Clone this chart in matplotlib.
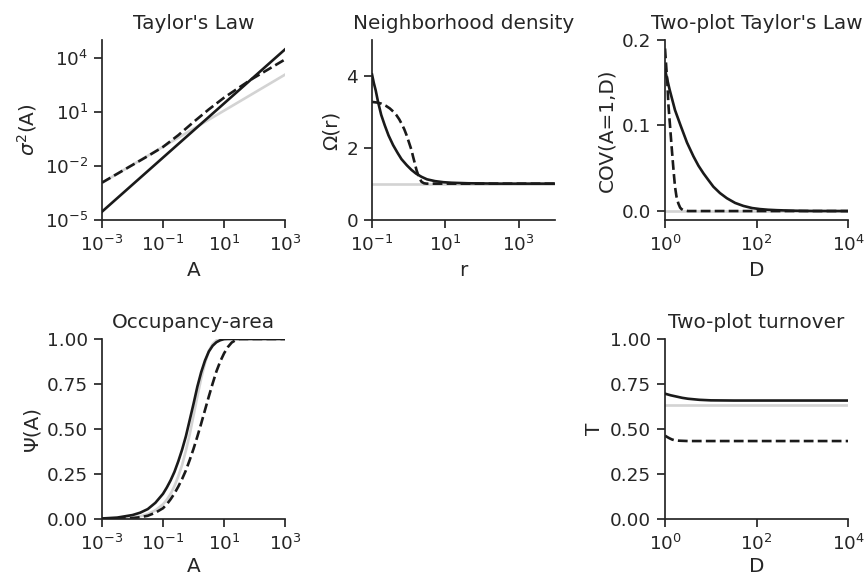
import numpy as np
import matplotlib
matplotlib.use("Agg")
import matplotlib.pyplot as plt

taylor_solid_logA = [-3, 3]
taylor_solid_log = [-4.54, 4.46]
taylor_gray_logA = [-3, 3]
taylor_gray_log = [-2.94, 3.06]
taylor_dash_logA = [-3, -2.5, -2, -1.5, -1, -0.5, 0, 0.5, 1, 1.5, 1.9, 2.5, 3]
taylor_dash_log = [-2.93, -2.44, -1.95, -1.46, -0.95, -0.3, 0.43, 1.13, 1.78, 2.35, 2.8, 3.4, 3.9]

# neighborhood density
nd_solid_logr = [-1, -0.95, -0.9, -0.836, -0.75, -0.653, -0.55, -0.425, -0.3, -0.196, -0.05, 0.078, 0.2, 0.35, 0.5, 0.72, 0.95, 1.17, 1.63, 2.5, 4]
nd_solid = [4.04, 3.8, 3.6, 3.28, 2.92, 2.63, 2.35, 2.08, 1.86, 1.69, 1.52, 1.39, 1.29, 1.2, 1.13, 1.08, 1.05, 1.035, 1.02, 1.01, 1.01]
nd_dash_logr = [-1, -0.85, -0.744, -0.62, -0.516, -0.42, -0.333, -0.26, -0.196, -0.12, -0.059, 0.0, 0.078, 0.12, 0.169, 0.21, 0.26, 0.3, 0.352, 0.42, 0.489, 0.7, 1.5, 4]
nd_dash = [3.28, 3.26, 3.23, 3.17, 3.1, 3.01, 2.91, 2.8, 2.68, 2.52, 2.36, 2.18, 1.94, 1.76, 1.57, 1.4, 1.25, 1.15, 1.06, 1.02, 1.01, 1.01, 1.01, 1.01]
nd_gray_logr = [-1, 4]
nd_gray = [1.0, 1.0]

# two-plot Taylor's law
cov_solid_logD = [0, 0.1, 0.218, 0.34, 0.48, 0.62, 0.73, 0.84, 0.95, 1.055, 1.2, 1.35, 1.53, 1.71, 1.9, 2.07, 2.25, 2.44, 2.8, 3.2, 4]
cov_solid = [0.165, 0.142, 0.118, 0.1, 0.08, 0.064, 0.053, 0.044, 0.036, 0.0285, 0.021, 0.015, 0.0095, 0.006, 0.0035, 0.0023, 0.0015, 0.001, 0.0004, 0.0001, 0.0]
cov_dash_logD = [0, 0.025, 0.051, 0.073, 0.109, 0.14, 0.167, 0.19, 0.218, 0.25, 0.29, 0.33, 0.36, 0.4, 0.5, 1, 4]
cov_dash = [0.19, 0.17, 0.15, 0.125, 0.1, 0.078, 0.06, 0.045, 0.0285, 0.017, 0.009, 0.004, 0.0023, 0.001, 0.0, 0.0, 0.0]
cov_gray_logD = [0, 4]
cov_gray = [0.0, 0.0]

# occupancy-area
occ_logA = [-3, -2.5, -2, -1.75, -1.5, -1.25, -1, -0.875, -0.75, -0.625, -0.5, -0.375, -0.25, -0.125,
            0, 0.125, 0.25, 0.375, 0.5, 0.625, 0.75, 0.875, 1.0, 1.125, 1.25, 1.375, 1.5, 2, 3]
occ_solid = [0.003, 0.008, 0.022, 0.035, 0.055, 0.09, 0.14, 0.175, 0.215, 0.262, 0.32, 0.385, 0.46, 0.55,
             0.64, 0.735, 0.815, 0.88, 0.93, 0.962, 0.982, 0.993, 0.999, 1.0, 1.0, 1.0, 1.0, 1.0, 1.0]
occ_gray = [0.001, 0.003, 0.0085, 0.015, 0.027, 0.048, 0.082, 0.107, 0.14, 0.183, 0.237, 0.3, 0.38, 0.47,
            0.575, 0.68, 0.78, 0.865, 0.933, 0.972, 0.992, 0.998, 1.0, 1.0, 1.0, 1.0, 1.0, 1.0, 1.0]
occ_dash = [0.0, 0.002, 0.005, 0.01, 0.018, 0.035, 0.06, 0.082, 0.11, 0.142, 0.18, 0.222, 0.27, 0.328,
            0.39, 0.458, 0.53, 0.605, 0.68, 0.752, 0.82, 0.875, 0.92, 0.955, 0.98, 0.993, 1.0, 1.0, 1.0]

# two-plot turnover
tt_solid_logD = [0, 0.125, 0.25, 0.375, 0.5, 0.75, 1.0, 1.5, 4]
tt_solid = [0.696, 0.687, 0.68, 0.673, 0.668, 0.662, 0.659, 0.658, 0.658]
tt_dash_logD = [0, 0.05, 0.1, 0.15, 0.2, 0.3, 0.5, 4]
tt_dash = [0.463, 0.455, 0.448, 0.442, 0.438, 0.435, 0.433, 0.433]
tt_gray_logD = [0, 4]
tt_gray = [0.632, 0.632]

dark = "#1a1a1a"
gray = "#d3d3d3"
txt = "#262626"
lw = 1.9
fs_lab = 14.4
fs_tick = 13.2

plt.rcParams.update({
    "font.family": "DejaVu Sans",
    "font.size": fs_lab,
    "axes.titlesize": fs_lab,
    "axes.labelsize": fs_lab,
    "xtick.labelsize": fs_tick,
    "ytick.labelsize": fs_tick,
    "axes.edgecolor": txt,
    "axes.labelcolor": txt,
    "xtick.color": txt,
    "ytick.color": txt,
    "text.color": txt,
    "axes.linewidth": 1.25,
    "xtick.major.width": 1.25,
    "ytick.major.width": 1.25,
    "xtick.major.size": 6,
    "ytick.major.size": 6,
    "xtick.major.pad": 5,
    "ytick.major.pad": 4,
    "axes.titlepad": 8,
    "axes.labelpad": 4,
})

fig = plt.figure(figsize=(8.64, 5.79), dpi=100)

def make_ax(rect):
    ax = fig.add_axes(rect)
    ax.spines["top"].set_visible(False)
    ax.spines["right"].set_visible(False)
    return ax

def p10(v):
    return 10.0 ** np.asarray(v, dtype=float)

def tri(ax, xg, yg, xs, ys, xd, yd):
    ax.plot(p10(xg), yg, color=gray, lw=lw, zorder=1)
    ax.plot(p10(xs), ys, color=dark, lw=lw, zorder=3)
    ax.plot(p10(xd), yd, color=dark, lw=lw, ls="--", zorder=2)

h = 0.311
w = 0.212
# Taylor's law
ax1 = make_ax([0.118, 0.62, w, h])
tri(ax1, taylor_gray_logA, p10(taylor_gray_log),
    taylor_solid_logA, p10(taylor_solid_log),
    taylor_dash_logA, p10(taylor_dash_log))
ax1.set_xscale("log")
ax1.set_yscale("log")
ax1.set_xlim(1e-3, 1e3)
ax1.set_ylim(1e-5, 9.5e4)
ax1.set_xticks([1e-3, 1e-1, 1e1, 1e3])
ax1.set_yticks([1e-5, 1e-2, 1e1, 1e4])
ax1.minorticks_off()
ax1.set_title("Taylor's Law")
ax1.set_xlabel("A")
ax1.set_ylabel(r"$\sigma^2$(A)")

# Neighborhood density
ax2 = make_ax([0.4306, 0.62, w, h])
tri(ax2, nd_gray_logr, nd_gray, nd_solid_logr, nd_solid, nd_dash_logr, nd_dash)
ax2.set_xscale("log")
ax2.set_xlim(1e-1, 1e4)
ax2.set_ylim(0, 5)
ax2.set_xticks([1e-1, 1e1, 1e3])
ax2.set_yticks([0, 2, 4])
ax2.minorticks_off()
ax2.set_title("Neighborhood density")
ax2.set_xlabel("r")
ax2.set_ylabel("Ω(r)")

# Two-plot Taylor's law
ax3 = make_ax([0.7697, 0.62, w, h])
tri(ax3, cov_gray_logD, cov_gray, cov_solid_logD, cov_solid, cov_dash_logD, cov_dash)
ax3.set_xscale("log")
ax3.set_xlim(1, 1e4)
ax3.set_ylim(-0.0105, 0.2)
ax3.set_xticks([1, 1e2, 1e4])
ax3.set_yticks([0, 0.1, 0.2])
ax3.set_yticklabels(["0.0", "0.1", "0.2"])
ax3.minorticks_off()
ax3.set_title("Two-plot Taylor's Law")
ax3.set_xlabel("D")
ax3.set_ylabel("COV(A=1,D)")

# Occupancy-area
ax4 = make_ax([0.118, 0.1036, w, h])
tri(ax4, occ_logA, occ_gray, occ_logA, occ_solid, occ_logA, occ_dash)
ax4.set_xscale("log")
ax4.set_xlim(1e-3, 1e3)
ax4.set_ylim(0, 1)
ax4.set_xticks([1e-3, 1e-1, 1e1, 1e3])
ax4.set_yticks([0, 0.25, 0.5, 0.75, 1.0])
ax4.set_yticklabels(["0.00", "0.25", "0.50", "0.75", "1.00"])
ax4.minorticks_off()
ax4.set_title("Occupancy-area")
ax4.set_xlabel("A", labelpad=2)
ax4.set_ylabel("Ψ(A)")

# Two-plot turnover
ax5 = make_ax([0.7697, 0.1036, w, h])
tri(ax5, tt_gray_logD, tt_gray, tt_solid_logD, tt_solid, tt_dash_logD, tt_dash)
ax5.set_xscale("log")
ax5.set_xlim(1, 1e4)
ax5.set_ylim(0, 1)
ax5.set_xticks([1, 1e2, 1e4])
ax5.set_yticks([0, 0.25, 0.5, 0.75, 1.0])
ax5.set_yticklabels(["0.00", "0.25", "0.50", "0.75", "1.00"])
ax5.minorticks_off()
ax5.set_title("Two-plot turnover")
ax5.set_xlabel("D", labelpad=2)
ax5.set_ylabel("T")

fig.savefig("out.png", dpi=100)
